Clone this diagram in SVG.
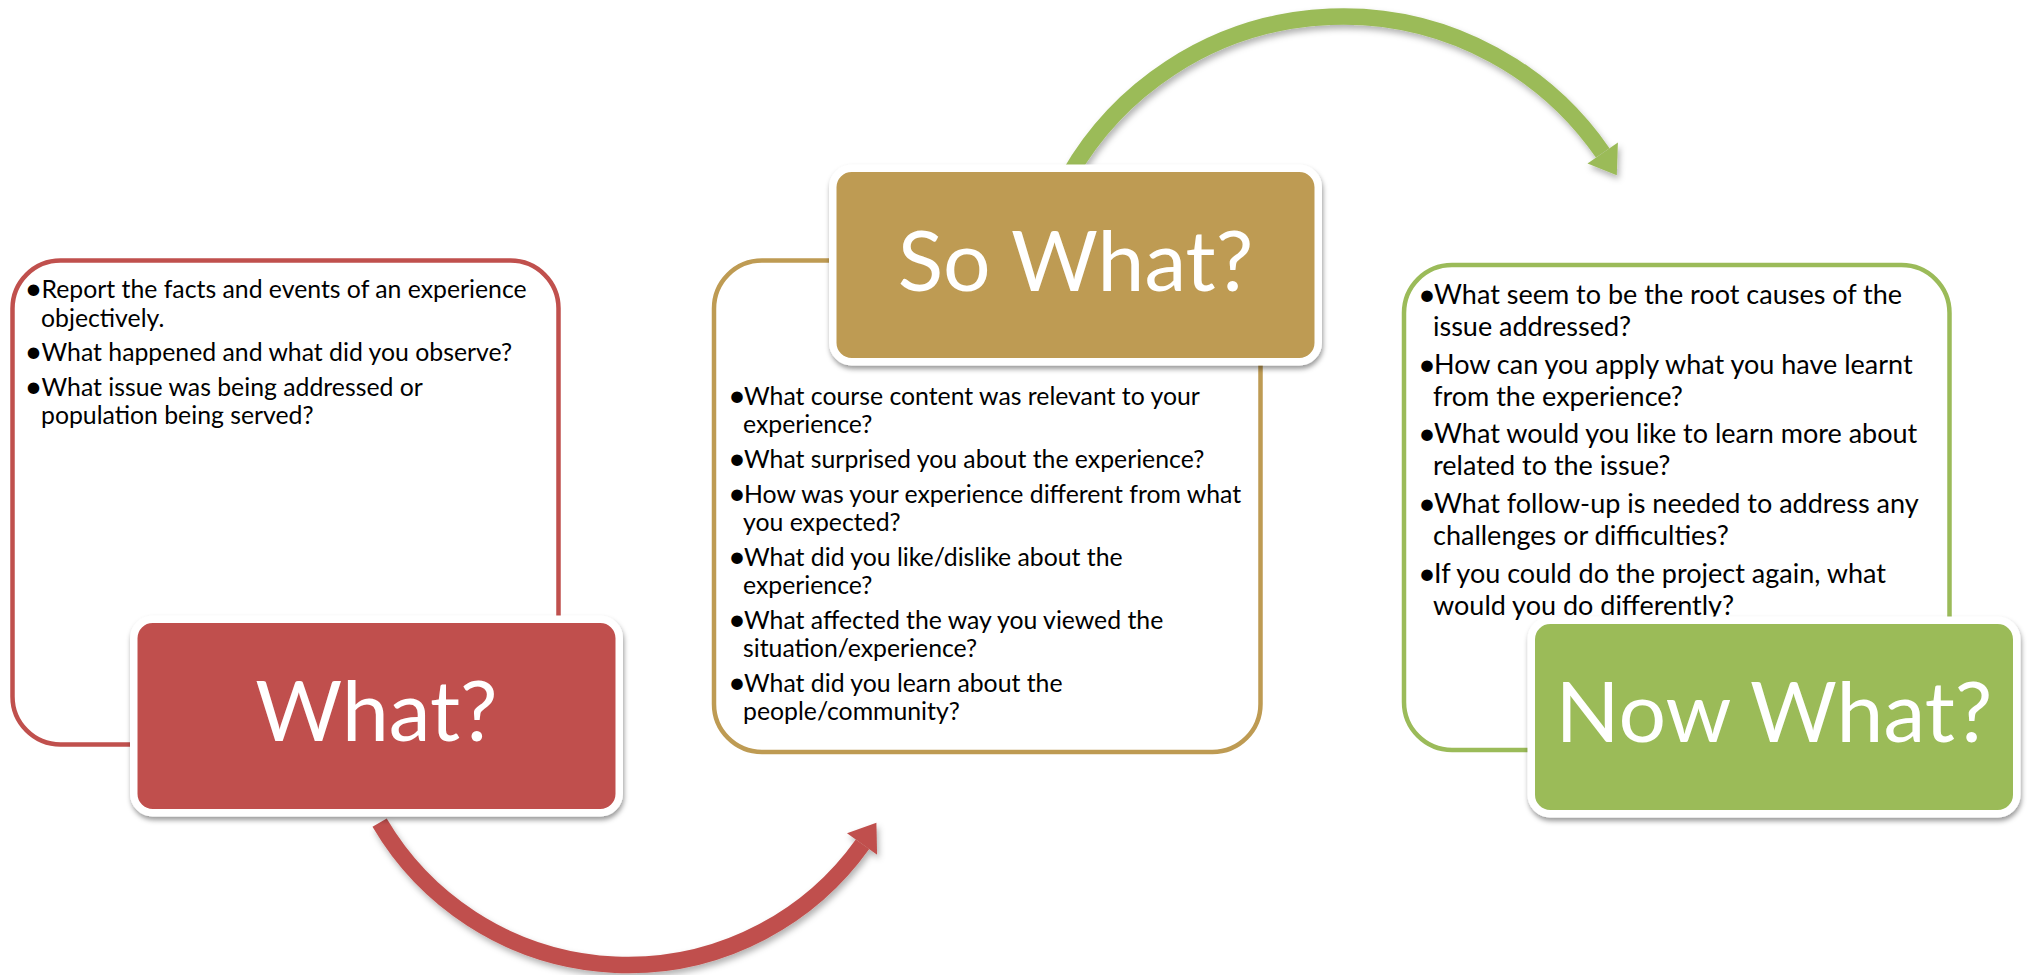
<svg xmlns="http://www.w3.org/2000/svg" width="2028" height="975" viewBox="0 0 2028 975">
<defs>
<style>
.body{font-family:Lato,"Liberation Sans",sans-serif;font-size:24.8px;fill:#000}
.b3{font-size:27px}
.bul{text-anchor:middle;font-size:31px}
.title{font-family:Lato,"Liberation Sans",sans-serif;font-size:84px;fill:#fff;text-anchor:middle}
.frame{fill:#fff;stroke-width:4.5}
.head{stroke:#fff;stroke-width:7.5}
.arc{fill:none;stroke-width:16.5}
</style>
<filter id="sh" x="-10%" y="-10%" width="120%" height="130%">
<feDropShadow dx="1" dy="3.5" stdDeviation="2.5" flood-color="#000" flood-opacity="0.4"/>
</filter>
<filter id="ash" x="-10%" y="-20%" width="120%" height="140%">
<feDropShadow dx="2" dy="4" stdDeviation="3" flood-color="#000" flood-opacity="0.3"/>
</filter>
</defs>
<rect width="2028" height="975" fill="#fff"/>

<g id="connectors">
<g id="arrow-what-sowhat" filter="url(#ash)" fill="#C0504D">
<path class="arc" stroke="#C0504D" d="M 379.6 822.7 A 288 288 0 0 0 862.5 844.2"/>
<polygon points="847,833.2 876.4,822.7 877.1,854.7"/>
</g>
<g id="arrow-sowhat-nowwhat" filter="url(#ash)" fill="#9BBB59">
<path class="arc" stroke="#9BBB59" d="M 1069.3 175 A 315.5 315.5 0 0 1 1602.7 152.9"/>
<polygon points="1587.5,163.4 1616.8,175.2 1617.9,142.4"/>
</g>
</g>

<g id="node-what">
<rect class="frame" stroke="#C0504D" x="12.5" y="260.5" width="546" height="484" rx="48"/>
<text class="body bul" x="33.5" y="299">•</text>
<text class="body" x="41.5" y="298">Report the facts and events of an experience</text>
<text class="body" x="41" y="326.5">objectively.</text>
<text class="body bul" x="33.5" y="362">•</text>
<text class="body" x="41.5" y="361">What happened and what did you observe?</text>
<text class="body bul" x="33.5" y="396.5">•</text>
<text class="body" x="41.5" y="395.5">What issue was being addressed or</text>
<text class="body" x="41" y="424">population being served?</text>
<rect class="head" fill="#C0504D" filter="url(#sh)" x="133.75" y="619.25" width="485.5" height="193.5" rx="19"/>
<text class="title" x="376.5" y="741">What?</text>
</g>

<g id="node-sowhat">
<rect class="frame" stroke="#BE9B53" x="714" y="260.5" width="546.5" height="491.5" rx="48"/>
<text class="body bul" x="737" y="406">•</text>
<text class="body" x="744" y="405">What course content was relevant to your</text>
<text class="body" x="743" y="433">experience?</text>
<text class="body bul" x="737" y="469">•</text>
<text class="body" x="744" y="468">What surprised you about the experience?</text>
<text class="body bul" x="737" y="504">•</text>
<text class="body" x="744" y="503">How was your experience different from what</text>
<text class="body" x="743" y="531">you expected?</text>
<text class="body bul" x="737" y="567">•</text>
<text class="body" x="744" y="566">What did you like/dislike about the</text>
<text class="body" x="743" y="594">experience?</text>
<text class="body bul" x="737" y="630">•</text>
<text class="body" x="744" y="629">What affected the way you viewed the</text>
<text class="body" x="743" y="657">situation/experience?</text>
<text class="body bul" x="737" y="693">•</text>
<text class="body" x="744" y="692">What did you learn about the</text>
<text class="body" x="743" y="720">people/community?</text>
<rect class="head" fill="#BE9B53" filter="url(#sh)" x="832.75" y="168.25" width="485.5" height="193.5" rx="19"/>
<text class="title" x="1075.5" y="290.5">So What?</text>
</g>

<g id="node-nowwhat">
<rect class="frame" stroke="#9BBB59" x="1404" y="265" width="545.5" height="485" rx="48"/>
<text class="body b3 bul" x="1427" y="305">•</text>
<text class="body b3" x="1434" y="304">What seem to be the root causes of the</text>
<text class="body b3" x="1433" y="336">issue addressed?</text>
<text class="body b3 bul" x="1427" y="374.5">•</text>
<text class="body b3" x="1434" y="373.5">How can you apply what you have learnt</text>
<text class="body b3" x="1433" y="405.5">from the experience?</text>
<text class="body b3 bul" x="1427" y="444">•</text>
<text class="body b3" x="1434" y="443">What would you like to learn more about</text>
<text class="body b3" x="1433" y="475">related to the issue?</text>
<text class="body b3 bul" x="1427" y="514">•</text>
<text class="body b3" x="1434" y="513">What follow-up is needed to address any</text>
<text class="body b3" x="1433" y="545">challenges or difficulties?</text>
<text class="body b3 bul" x="1427" y="584">•</text>
<text class="body b3" x="1434" y="583">If you could do the project again, what</text>
<text class="body b3" x="1433" y="615">would you do differently?</text>
<rect class="head" fill="#9BBB59" filter="url(#sh)" x="1531.25" y="620.25" width="485.5" height="193.5" rx="19"/>
<text class="title" x="1774" y="742">Now What?</text>
</g>
</svg>
